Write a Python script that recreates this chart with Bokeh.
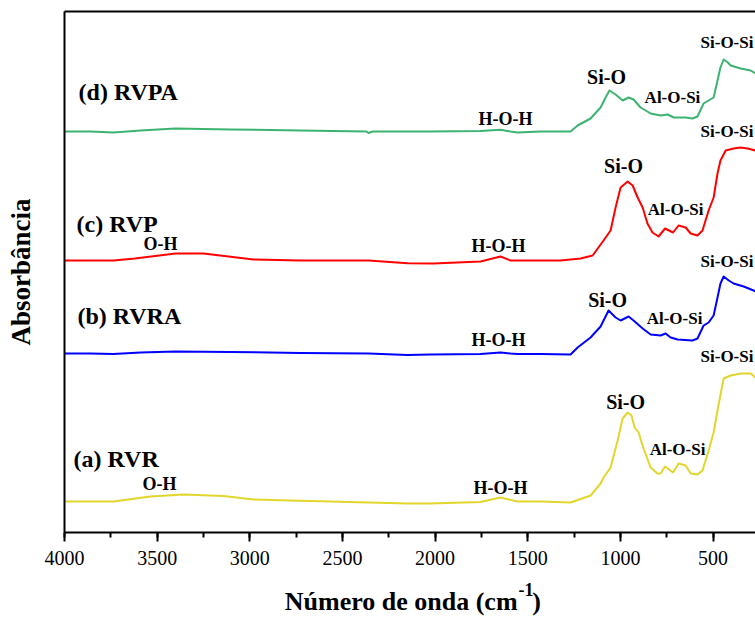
from bokeh.plotting import figure
from bokeh.layouts import column
from bokeh.models import Range1d, LinearAxis, SingleIntervalTicker, FixedTicker, Label
from bokeh.embed import file_html
from bokeh.resources import INLINE

# FTIR spectra, wavenumber (cm-1) and absorbance (a.u., relative to each baseline)
wn_a = [4000, 3860, 3736, 3536, 3358, 3142, 2980, 2780, 2359, 2149, 2025, 1755, 1647, 1555, 1431,
        1269, 1161, 1107, 1091, 1053, 1015, 988, 961, 940, 923, 902, 875, 837, 800, 783, 759, 716,
        686, 648, 621, 584, 557, 524, 497, 476, 443, 405, 351, 297, 271]
abs_a = [0, 0, 0, 0.05, 0.07, 0.055, 0.02, 0.01, -0.01, -0.02, -0.02, -0.005, 0.04, 0, 0,
         -0.01, 0.06, 0.18, 0.24, 0.34, 0.61, 0.83, 0.89, 0.86, 0.74, 0.69, 0.53, 0.34, 0.28, 0.28, 0.35, 0.29,
         0.38, 0.36, 0.28, 0.27, 0.31, 0.51, 0.69, 0.91, 1.23, 1.26, 1.28, 1.28, 1.24]

wn_b = [4000, 3860, 3736, 3590, 3401, 3104, 2727, 2359, 2149, 2025, 1755, 1647, 1593, 1555, 1431,
        1269, 1231, 1161, 1107, 1080, 1064, 1026, 999, 956, 929, 880, 837, 783, 756, 729, 691,
        611, 584, 551, 524, 497, 476, 460, 443, 415, 389, 335, 281, 271]
abs_b = [0, 0, -0.005, 0.01, 0.02, 0.015, 0.005, 0, -0.015, -0.01, -0.005, 0.01, 0, -0.005, -0.005,
         -0.01, 0.06, 0.16, 0.27, 0.37, 0.43, 0.36, 0.33, 0.37, 0.33, 0.25, 0.19, 0.18, 0.20, 0.16, 0.14,
         0.13, 0.15, 0.28, 0.31, 0.38, 0.56, 0.70, 0.77, 0.73, 0.70, 0.67, 0.63, 0.62]

wn_c = [4000, 3860, 3736, 3620, 3401, 3250, 2980, 2727, 2359, 2149, 2010, 1755, 1647, 1593, 1431,
        1323, 1215, 1150, 1091, 1053, 1026, 999, 961, 934, 907, 880, 854, 827, 794, 759, 716,
        686, 648, 621, 584, 557, 524, 497, 476, 460, 432, 389, 352, 314, 271]
abs_c = [0, 0, 0, 0.02, 0.07, 0.07, 0.01, 0, 0, -0.027, -0.03, -0.01, 0.04, 0, 0,
         0, 0.02, 0.05, 0.20, 0.30, 0.53, 0.73, 0.79, 0.75, 0.63, 0.53, 0.37, 0.28, 0.24, 0.32, 0.28,
         0.35, 0.33, 0.27, 0.25, 0.30, 0.50, 0.63, 0.87, 1.00, 1.10, 1.12, 1.13, 1.12, 1.10]

wn_d = [4000, 3860, 3736, 3590, 3401, 3104, 2727, 2370, 2359, 2338, 2025, 1755, 1647, 1593, 1555,
        1431, 1269, 1231, 1161, 1107, 1080, 1059, 1026, 988, 956, 929, 891, 837, 783, 745, 712,
        648, 611, 584, 551, 524, 497, 476, 460, 443, 420, 405, 351, 297, 271]
abs_d = [0, 0, -0.01, 0.01, 0.03, 0.02, 0.01, 0.0, -0.015, 0, 0, 0.005, 0.017, 0, -0.01,
         0, 0, 0.06, 0.13, 0.24, 0.34, 0.41, 0.37, 0.31, 0.34, 0.32, 0.24, 0.18, 0.16, 0.17, 0.14,
         0.14, 0.13, 0.15, 0.28, 0.31, 0.34, 0.51, 0.64, 0.72, 0.69, 0.66, 0.63, 0.61, 0.58]

sample_names = ["(a) RVR", "(b) RVRA", "(c) RVP", "(d) RVPA"]
offsets = [0.31, 1.79, 2.72, 4.01]
colors = ["#E2D62C", "#0000FF", "#FF0000", "#3CB371"]

SERIF = "Liberation Serif"

p = figure(width=755, height=575,
           x_range=Range1d(4000, 271), y_range=Range1d(0, 5.21),
           output_backend="svg", toolbar_location=None,
           min_border_left=64, min_border_right=0, min_border_top=11, min_border_bottom=43)
p.outline_line_color = None
p.grid.visible = False
p.background_fill_color = "white"
p.border_fill_color = "white"

# bottom wavenumber axis
xa = p.xaxis[0]
xa.ticker = SingleIntervalTicker(interval=500, num_minor_ticks=2)
xa.axis_line_width = 2
xa.axis_line_color = "black"
xa.major_tick_line_width = 2
xa.major_tick_line_color = "black"
xa.minor_tick_line_width = 2
xa.minor_tick_line_color = "black"
xa.major_tick_in = 0
xa.major_tick_out = 9
xa.minor_tick_in = 0
xa.minor_tick_out = 5
xa.major_label_text_font = SERIF
xa.major_label_text_font_size = "20px"
xa.major_label_text_color = "black"
xa.major_label_standoff = 9

# left axis: line and title only
ya = p.yaxis[0]
ya.ticker = FixedTicker(ticks=[])
ya.axis_line_width = 2
ya.axis_line_color = "black"
ya.major_tick_out = 0
ya.minor_tick_out = 0
ya.major_label_standoff = 0
ya.axis_label = "Absorbância"
ya.axis_label_text_font = SERIF
ya.axis_label_text_font_style = "bold"
ya.axis_label_text_font_size = "27px"
ya.axis_label_text_color = "black"
ya.axis_label_standoff = 29

# top frame line
top = LinearAxis(ticker=FixedTicker(ticks=[]), axis_line_width=2, axis_line_color="black",
                 major_tick_out=0, minor_tick_out=0, major_label_standoff=0)
p.add_layout(top, "above")

series = [(wn_a, abs_a), (wn_b, abs_b), (wn_c, abs_c), (wn_d, abs_d)]
for (wn, ab), off, col in zip(series, offsets, colors):
    p.line(wn, [v + off for v in ab], line_color=col, line_width=2, line_join="round")


def add_text(fig, x, y, text, size, align="left", baseline="alphabetic"):
    fig.add_layout(Label(x=x, y=y, text=text, text_font=SERIF, text_font_style="bold",
                         text_font_size=size, text_color="black", text_align=align,
                         text_baseline=baseline))


# sample names
add_text(p, 3951, 0.74, sample_names[0], "24px")
add_text(p, 3930, 2.17, sample_names[1], "24px")
add_text(p, 3935, 3.09, sample_names[2], "24px")
add_text(p, 3924, 4.41, sample_names[3], "24px")

# band assignments: (wavenumber, y, text, size, align)
bands = [
    # (d) RVPA
    (1075, 4.56, "Si-O", "20px", "center"),
    (719, 4.35, "Al-O-Si", "17px", "center"),
    (282, 4.90, "Si-O-Si", "17px", "right"),
    (1620, 4.14, "H-O-H", "18px", "center"),
    # (c) RVP
    (983, 3.67, "Si-O", "20px", "center"),
    (702, 3.23, "Al-O-Si", "17px", "center"),
    (282, 4.01, "Si-O-Si", "17px", "right"),
    (1658, 2.87, "H-O-H", "18px", "center"),
    (3482, 2.89, "O-H", "18px", "center"),
    # (b) RVRA
    (1069, 2.33, "Si-O", "20px", "center"),
    (708, 2.14, "Al-O-Si", "17px", "center"),
    (282, 2.71, "Si-O-Si", "17px", "right"),
    (1658, 1.93, "H-O-H", "18px", "center"),
    # (a) RVR
    (972, 1.31, "Si-O", "20px", "center"),
    (692, 0.83, "Al-O-Si", "17px", "center"),
    (282, 1.76, "Si-O-Si", "17px", "right"),
    (1647, 0.45, "H-O-H", "18px", "center"),
    (3487, 0.49, "O-H", "18px", "center"),
]
for x, y, t, s, a in bands:
    add_text(p, x, y, t, s, a)

# x-axis title strip below the main plot: text, raised "-1", closing parenthesis
cap = figure(width=755, height=42, x_range=Range1d(0, 755), y_range=Range1d(0, 42),
             title=None, x_axis_type=None, y_axis_type=None,
             output_backend="svg", toolbar_location=None,
             min_border_left=0, min_border_right=0, min_border_top=0, min_border_bottom=0)
cap.outline_line_color = None
cap.grid.visible = False
cap.border_fill_color = "white"
add_text(cap, 495, 16, "Número de onda (cm", "26px", "right")
add_text(cap, 496, 28, "-1", "18px", "left")
add_text(cap, 511, 16, ")", "26px", "left")

layout = column(p, cap, spacing=0)
open("out.html", "w").write(file_html(layout, INLINE))
